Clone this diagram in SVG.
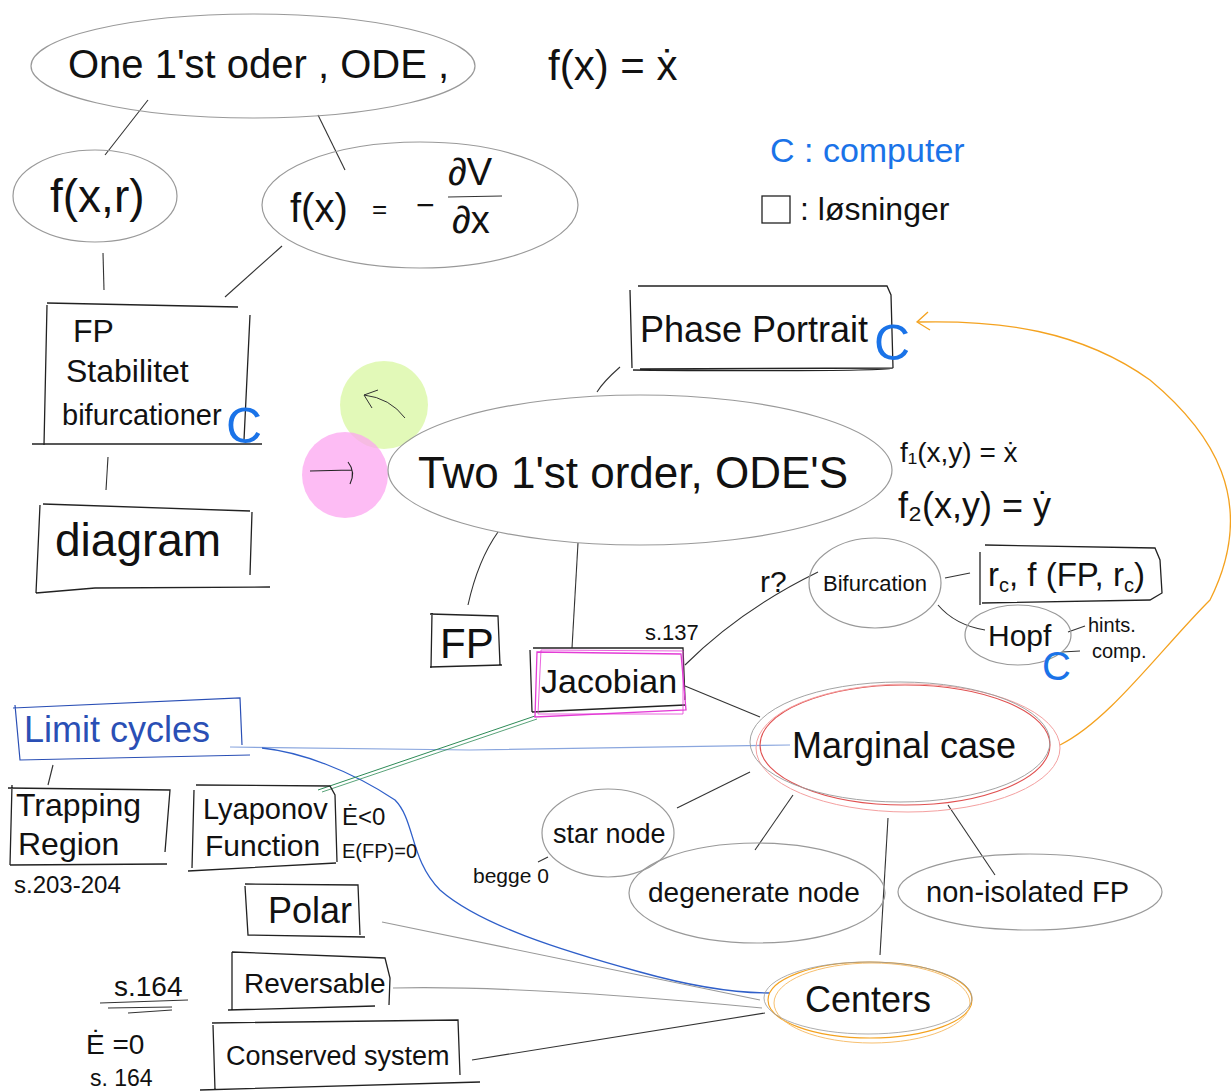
<svg xmlns="http://www.w3.org/2000/svg" width="1231" height="1091" viewBox="0 0 1231 1091">
<style>
text{font-family:"Liberation Sans",Arial,sans-serif;fill:#111;font-weight:normal}
.ol{fill:none;stroke:#999;stroke-width:1.2}
.bx{fill:none;stroke:#222;stroke-width:1.3}
.ln{fill:none;stroke:#333;stroke-width:1.1}
.gl{fill:none;stroke:#999;stroke-width:1.1}
.blue{fill:#1a73e8}
.dblue{fill:#2a4fb5}
</style>
<rect width="1231" height="1091" fill="#fff"/>
<g id="connectors">
<path class="ln" d="M148 100 L105 155"/>
<path class="ln" d="M318 115 L345 170"/>
<path class="ln" d="M103 253 L104 290"/>
<path class="ln" d="M282 246 L225 297"/>
<path class="ln" d="M108 457 L106 490"/>
<path class="ln" d="M597 392 Q603 382 620 367"/>
<path class="ln" d="M498 532 Q478 560 468 605"/>
<path class="ln" d="M578 543 L572 648"/>
<path class="ln" d="M685 665 Q740 610 818 572"/>
<path class="ln" d="M945 578 L970 573"/>
<path class="ln" d="M938 605 Q955 625 985 630"/>
<path class="ln" d="M1068 632 L1085 626"/>
<path class="ln" d="M1062 652 L1080 651"/>
<path class="ln" d="M685 686 L760 717"/>
<path class="ln" d="M750 772 L677 808"/>
<path class="ln" d="M793 795 L755 850"/>
<path class="ln" d="M948 805 L995 875"/>
<path class="ln" d="M888 818 L880 955"/>
<path class="ln" d="M538 862 L548 857"/>
<path class="ln" d="M53 765 L48 785"/>
<path d="M230 747 L470 750 L790 745" fill="none" stroke="#8aa6de" stroke-width="1.2"/>
<path d="M262 748 C300 752 350 770 395 800 C415 820 410 860 440 890 C480 925 560 950 640 972 C690 986 730 993 770 993" fill="none" stroke="#2f5fc9" stroke-width="1.3"/>
<path d="M318 790 L535 716" fill="none" stroke="#2e8b57" stroke-width="1"/>
<path d="M322 792 L537 719" fill="none" stroke="#2e8b57" stroke-width="0.8"/>
<path class="gl" d="M382 922 L760 1000"/>
<path class="gl" d="M393 988 Q520 985 762 1008"/>
<path class="ln" d="M472 1060 L765 1013"/>
<path d="M1060 745 C1110 720 1160 650 1210 600 C1260 500 1210 430 1150 380 C1080 330 1000 320 918 322" fill="none" stroke="#f4a21f" stroke-width="1.3"/>
<path d="M928 312 L917 322 L930 330" fill="none" stroke="#f4a21f" stroke-width="1.3"/>
</g>
<g id="one-ode">
<ellipse class="ol" cx="253" cy="66" rx="222" ry="52"/>
<text x="68" y="78" font-size="40">One  1'st oder ,  ODE ,</text>
</g>
<g id="fx-xdot"><text x="548" y="80" font-size="42">f(x) = ẋ</text></g>
<g id="fxr">
<ellipse class="ol" cx="95" cy="196" rx="82" ry="46"/>
<text x="50" y="212" font-size="46">f(x,r)</text>
</g>
<g id="potential">
<ellipse class="ol" cx="420" cy="205" rx="158" ry="63"/>
<text x="290" y="222" font-size="40">f(x)</text>
<text x="372" y="218" font-size="26">=</text>
<text x="416" y="216" font-size="32">−</text>
<text x="448" y="185" font-size="38">∂V</text>
<path class="ln" d="M448 197 L502 196"/>
<text x="452" y="233" font-size="38">∂x</text>
</g>
<g id="legend">
<text x="770" y="162" font-size="34" class="blue">C : computer</text>
<rect x="762" y="196" width="28" height="27" class="bx"/>
<text x="800" y="220" font-size="32">: løsninger</text>
</g>
<g id="fp-stabilitet">
<path class="bx" d="M47 303 L238 307 M47 305 L44 445 M250 315 L244 440 M32 444 L262 444"/>
<text x="73" y="342" font-size="32">FP</text>
<text x="66" y="382" font-size="32">Stabilitet</text>
<text x="62" y="425" font-size="29">bifurcationer</text>
<text x="226" y="443" font-size="50" class="blue">C</text>
</g>
<g id="diagram">
<path class="bx" d="M43 504 L250 511 M40 505 L36 593 M252 512 L250 575 M36 593 L95 588 L270 587"/>
<text x="55" y="556" font-size="46">diagram</text>
</g>
<g id="markers">
<circle cx="384" cy="405" r="44" fill="#d8f7a0" opacity="0.75"/>
<circle cx="345" cy="475" r="43" fill="#fca5f0" opacity="0.75"/>
<path d="M405 418 Q390 398 364 395 M364 395 L378 390 M364 395 L372 408" fill="none" stroke="#333" stroke-width="1"/>
<path d="M310 471 L352 470 M348 462 Q356 472 350 484" fill="none" stroke="#222" stroke-width="1.1"/>
</g>
<g id="phase-portrait">
<path class="bx" d="M630 290 L632 368 M638 286 L887 286 L891 295 L893 368 M640 369 L893 368 Q880 372 633 370"/>
<text x="640" y="342" font-size="36">Phase Portrait</text>
<text x="874" y="360" font-size="50" class="blue">C</text>
</g>
<g id="two-ode">
<ellipse class="ol" cx="640" cy="470" rx="252" ry="75"/>
<text x="418" y="488" font-size="44">Two  1'st order, ODE'S</text>
</g>
<g id="f-eqs">
<text x="900" y="462" font-size="28">f₁(x,y) = ẋ</text>
<text x="898" y="518" font-size="36">f₂(x,y) = ẏ</text>
</g>
<g id="fp-small">
<path class="bx" d="M430 614 L498 616 L500 665 M432 613 L431 668 M430 667 L502 665"/>
<text x="440" y="658" font-size="42">FP</text>
</g>
<g id="jacobian">
<path class="bx" d="M533 648 L683 648 L685 700 M530 650 L532 712 M532 712 L685 705"/>
<path d="M537 652 L681 654 L686 710 L535 717 Z" fill="none" stroke="#e33cd6" stroke-width="1.3"/>
<path d="M541 650 L683 651 L683 714 L538 714 Z" fill="none" stroke="#e33cd6" stroke-width="0.8"/>
<text x="541" y="693" font-size="34">Jacobian</text>
<text x="645" y="640" font-size="22">s.137</text>
</g>
<g id="r-question"><text x="760" y="592" font-size="30">r?</text></g>
<g id="bifurcation">
<ellipse class="ol" cx="875" cy="583" rx="66" ry="45"/>
<text x="823" y="591" font-size="22">Bifurcation</text>
</g>
<g id="rc-box">
<path class="bx" d="M980 552 L980 605 M985 545 L1155 548 L1160 560 L1162 593 L1150 600 L982 603"/>
<text x="988" y="586" font-size="33">r<tspan font-size="20" dy="6">c</tspan><tspan dy="-6">, f (FP, r</tspan><tspan font-size="20" dy="6">c</tspan><tspan dy="-6">)</tspan></text>
</g>
<g id="hopf">
<ellipse class="ol" cx="1018" cy="635" rx="53" ry="30"/>
<text x="988" y="646" font-size="30">Hopf</text>
<text x="1042" y="680" font-size="40" class="blue">C</text>
<text x="1088" y="632" font-size="20">hints.</text>
<text x="1092" y="658" font-size="20">comp.</text>
</g>
<g id="marginal-case">
<ellipse cx="905" cy="745" rx="145" ry="60" fill="none" stroke="#e05050" stroke-width="1.1"/>
<ellipse cx="908" cy="748" rx="152" ry="64" fill="none" stroke="#f4a0a0" stroke-width="1"/>
<ellipse cx="900" cy="742" rx="150" ry="60" fill="none" stroke="#999" stroke-width="0.9"/>
<text x="792" y="758" font-size="36">Marginal case</text>
</g>
<g id="limit-cycles">
<path d="M13 708 L240 698 L242 745 M15 705 L20 760 L250 755" fill="none" stroke="#2a4fb5" stroke-width="1.2"/>
<text x="24" y="742" font-size="36" class="dblue">Limit cycles</text>
</g>
<g id="trapping">
<path class="bx" d="M8 788 L170 790 L165 852 M12 785 L10 865 M10 865 L167 864"/>
<text x="16" y="816" font-size="32">Trapping</text>
<text x="18" y="855" font-size="32">Region</text>
<text x="14" y="893" font-size="24">s.203-204</text>
</g>
<g id="lyapunov">
<path class="bx" d="M196 785 L330 786 L335 795 L337 862 M194 790 L192 868 M188 871 L336 863"/>
<text x="203" y="819" font-size="29">Lyaponov</text>
<text x="205" y="856" font-size="30">Function</text>
<text x="342" y="825" font-size="24">Ė&lt;0</text>
<text x="342" y="858" font-size="20">E(FP)=0</text>
</g>
<g id="polar">
<path class="bx" d="M245 884 L358 885 L360 935 M245 886 L248 935 L365 937"/>
<text x="268" y="923" font-size="36">Polar</text>
</g>
<g id="reversable">
<path class="bx" d="M232 952 L385 958 L390 978 L389 1005 M232 952 L232 1010 M228 1010 L375 1006"/>
<text x="244" y="993" font-size="28">Reversable</text>
</g>
<g id="s164-a">
<text x="114" y="996" font-size="28">s.164</text>
<path class="ln" d="M100 1003 L188 1000 M108 1008 L172 1007 M128 1013 L172 1010"/>
</g>
<g id="conserved">
<path class="bx" d="M212 1023 L458 1020 L460 1075 M213 1025 L215 1090 M200 1090 L480 1082"/>
<text x="226" y="1065" font-size="27">Conserved system</text>
</g>
<g id="e-zero">
<text x="86" y="1054" font-size="28">Ė =0</text>
<text x="90" y="1086" font-size="23">s. 164</text>
</g>
<g id="star-node">
<ellipse class="ol" cx="608" cy="833" rx="66" ry="44"/>
<text x="553" y="843" font-size="27">star node</text>
<text x="473" y="883" font-size="21">begge 0</text>
</g>
<g id="degenerate-node">
<ellipse class="ol" cx="757" cy="893" rx="128" ry="50"/>
<text x="648" y="902" font-size="28">degenerate node</text>
</g>
<g id="non-isolated">
<ellipse class="ol" cx="1030" cy="892" rx="132" ry="38"/>
<text x="926" y="902" font-size="29">non-isolated  FP</text>
</g>
<g id="centers">
<ellipse cx="870" cy="1000" rx="102" ry="38" fill="none" stroke="#f4a21f" stroke-width="1.1"/>
<ellipse cx="872" cy="1003" rx="98" ry="40" fill="none" stroke="#f7c070" stroke-width="1"/>
<ellipse cx="868" cy="998" rx="104" ry="36" fill="none" stroke="#999" stroke-width="0.8"/>
<text x="805" y="1012" font-size="36">Centers</text>
</g>
</svg>
